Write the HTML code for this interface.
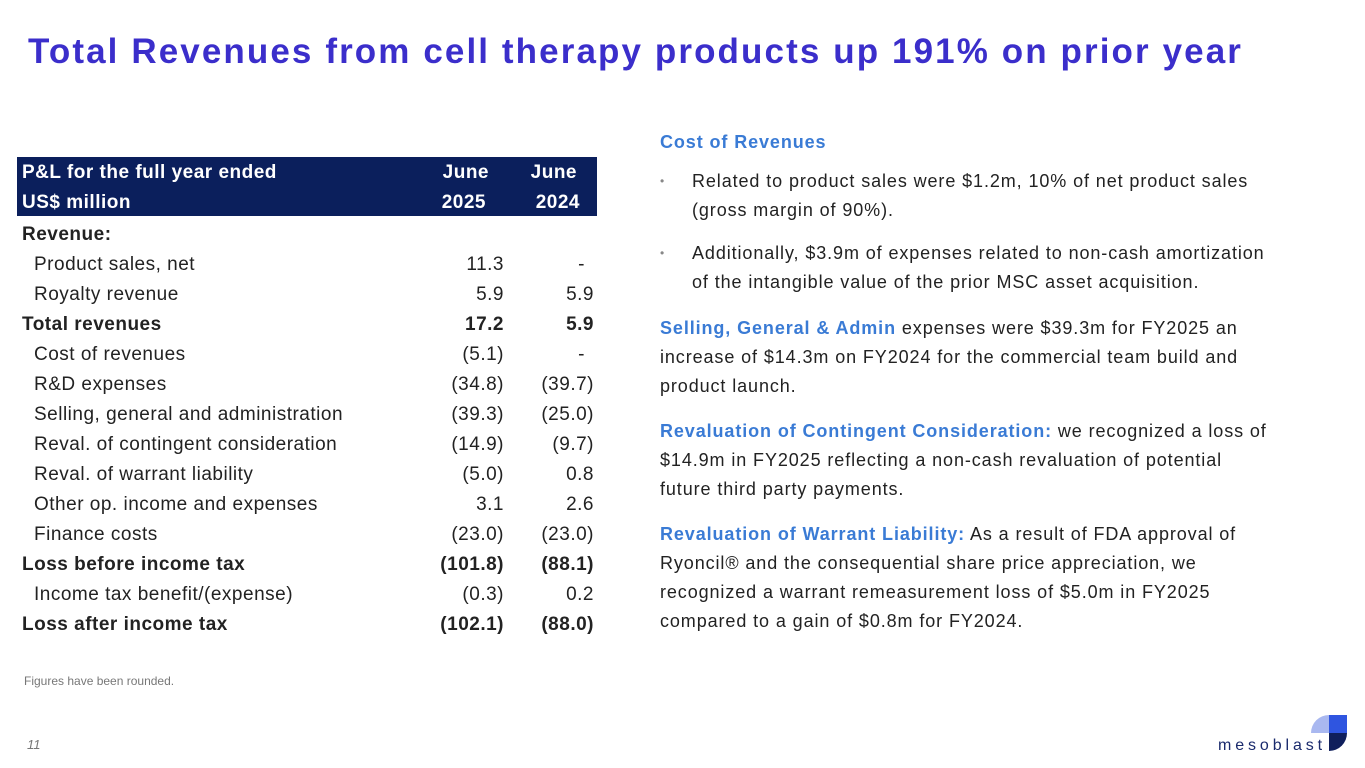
<!DOCTYPE html>
<html><head><meta charset="utf-8">
<style>
body{margin:0;width:1365px;height:768px;background:#fff;position:relative;overflow:hidden;font-family:"Liberation Sans",sans-serif}
.title{position:absolute;left:28px;top:32px;font-size:35px;font-weight:bold;color:#3b2ecb;letter-spacing:2.1px;white-space:nowrap}
.tbl{position:absolute;left:17px;top:157px;width:580px;font-size:19px;color:#222;letter-spacing:0.5px}
.hdr{background:#0b1f5c;color:#fff;font-weight:bold;height:59px;position:relative}
.hdr div{position:absolute}
.row{height:30px;position:relative;line-height:30px}
.row span{position:absolute;top:4px}
.lab{left:5px}.ind{left:17px}
.c1{right:93px}.c2{right:3px}
.b{font-weight:bold}
.rt{position:absolute;left:660px;font-size:18px;color:#222;line-height:29px;letter-spacing:0.9px;white-space:nowrap}
.hd{color:#3a7bd5;font-weight:bold}
.bl{position:absolute;left:660px;font-size:18px;line-height:29px;color:#222;letter-spacing:0.9px;white-space:nowrap}
.bl .d{position:absolute;left:0;color:#888;font-size:12px}
.bl .t{position:absolute;left:32px}
</style></head><body>
<div class="title">Total Revenues from cell therapy products up 191% on prior year</div>

<div class="tbl">
<div class="hdr">
<div style="left:5px;top:5px">P&amp;L for the full year ended</div>
<div style="left:5px;top:35px">US$ million</div>
<div style="right:108px;top:5px">June</div>
<div style="right:111px;top:35px">2025</div>
<div style="right:20px;top:5px">June</div>
<div style="right:17px;top:35px">2024</div>
</div>
<div class="row"><span class="lab b">Revenue:</span></div>
<div class="row"><span class="ind">Product sales, net</span><span class="c1">11.3</span><span class="c2" style="right:12px">-</span></div>
<div class="row"><span class="ind">Royalty revenue</span><span class="c1">5.9</span><span class="c2">5.9</span></div>
<div class="row b"><span class="lab">Total revenues</span><span class="c1">17.2</span><span class="c2">5.9</span></div>
<div class="row"><span class="ind">Cost of revenues</span><span class="c1">(5.1)</span><span class="c2" style="right:12px">-</span></div>
<div class="row"><span class="ind">R&amp;D expenses</span><span class="c1">(34.8)</span><span class="c2">(39.7)</span></div>
<div class="row"><span class="ind">Selling, general and administration</span><span class="c1">(39.3)</span><span class="c2">(25.0)</span></div>
<div class="row"><span class="ind">Reval. of contingent consideration</span><span class="c1">(14.9)</span><span class="c2">(9.7)</span></div>
<div class="row"><span class="ind">Reval. of warrant liability</span><span class="c1">(5.0)</span><span class="c2">0.8</span></div>
<div class="row"><span class="ind">Other op. income and expenses</span><span class="c1">3.1</span><span class="c2">2.6</span></div>
<div class="row"><span class="ind">Finance costs</span><span class="c1">(23.0)</span><span class="c2">(23.0)</span></div>
<div class="row b"><span class="lab">Loss before income tax</span><span class="c1">(101.8)</span><span class="c2">(88.1)</span></div>
<div class="row"><span class="ind">Income tax benefit/(expense)</span><span class="c1">(0.3)</span><span class="c2">0.2</span></div>
<div class="row b"><span class="lab">Loss after income tax</span><span class="c1">(102.1)</span><span class="c2">(88.0)</span></div>
</div>

<div class="rt hd" style="top:128px">Cost of Revenues</div>
<div class="bl" style="top:167px"><span class="d">•</span><span class="t">Related to product sales were $1.2m, 10% of net product sales<br>(gross margin of 90%).</span></div>
<div class="bl" style="top:239px"><span class="d">•</span><span class="t">Additionally, $3.9m of expenses related to non-cash amortization<br>of the intangible value of the prior MSC asset acquisition.</span></div>
<div class="rt" style="top:314px"><span class="hd">Selling, General &amp; Admin</span> expenses were $39.3m for FY2025 an<br>increase of $14.3m on FY2024 for the commercial team build and<br>product launch.</div>
<div class="rt" style="top:417px"><span class="hd">Revaluation of Contingent Consideration:</span> we recognized a loss of<br>$14.9m in FY2025 reflecting a non-cash revaluation of potential<br>future third party payments.</div>
<div class="rt" style="top:520px"><span class="hd">Revaluation of Warrant Liability:</span> As a result of FDA approval of<br>Ryoncil® and the consequential share price appreciation, we<br>recognized a warrant remeasurement loss of $5.0m in FY2025<br>compared to a gain of $0.8m for FY2024.</div>

<div style="position:absolute;left:24px;top:674px;font-size:12px;color:#777">Figures have been rounded.</div>
<div style="position:absolute;left:27px;top:737px;font-size:13px;color:#777;font-style:italic">11</div>
<div style="position:absolute;left:1218px;top:737px;font-size:16px;color:#1a2a6c;letter-spacing:3.9px;white-space:nowrap">mesoblast</div>
<svg style="position:absolute;left:1311px;top:715px" width="36" height="36">
<path d="M0 18 A18 18 0 0 1 18 0 L18 18Z" fill="#a9b8f0"/>
<path d="M18 0 L36 0 L36 18 A18 18 0 0 1 18 18Z" fill="#2f55e0"/>
<path d="M18 18 L36 18 A18 18 0 0 1 18 36Z" fill="#0f1f5c"/>
</svg>
</body></html>
